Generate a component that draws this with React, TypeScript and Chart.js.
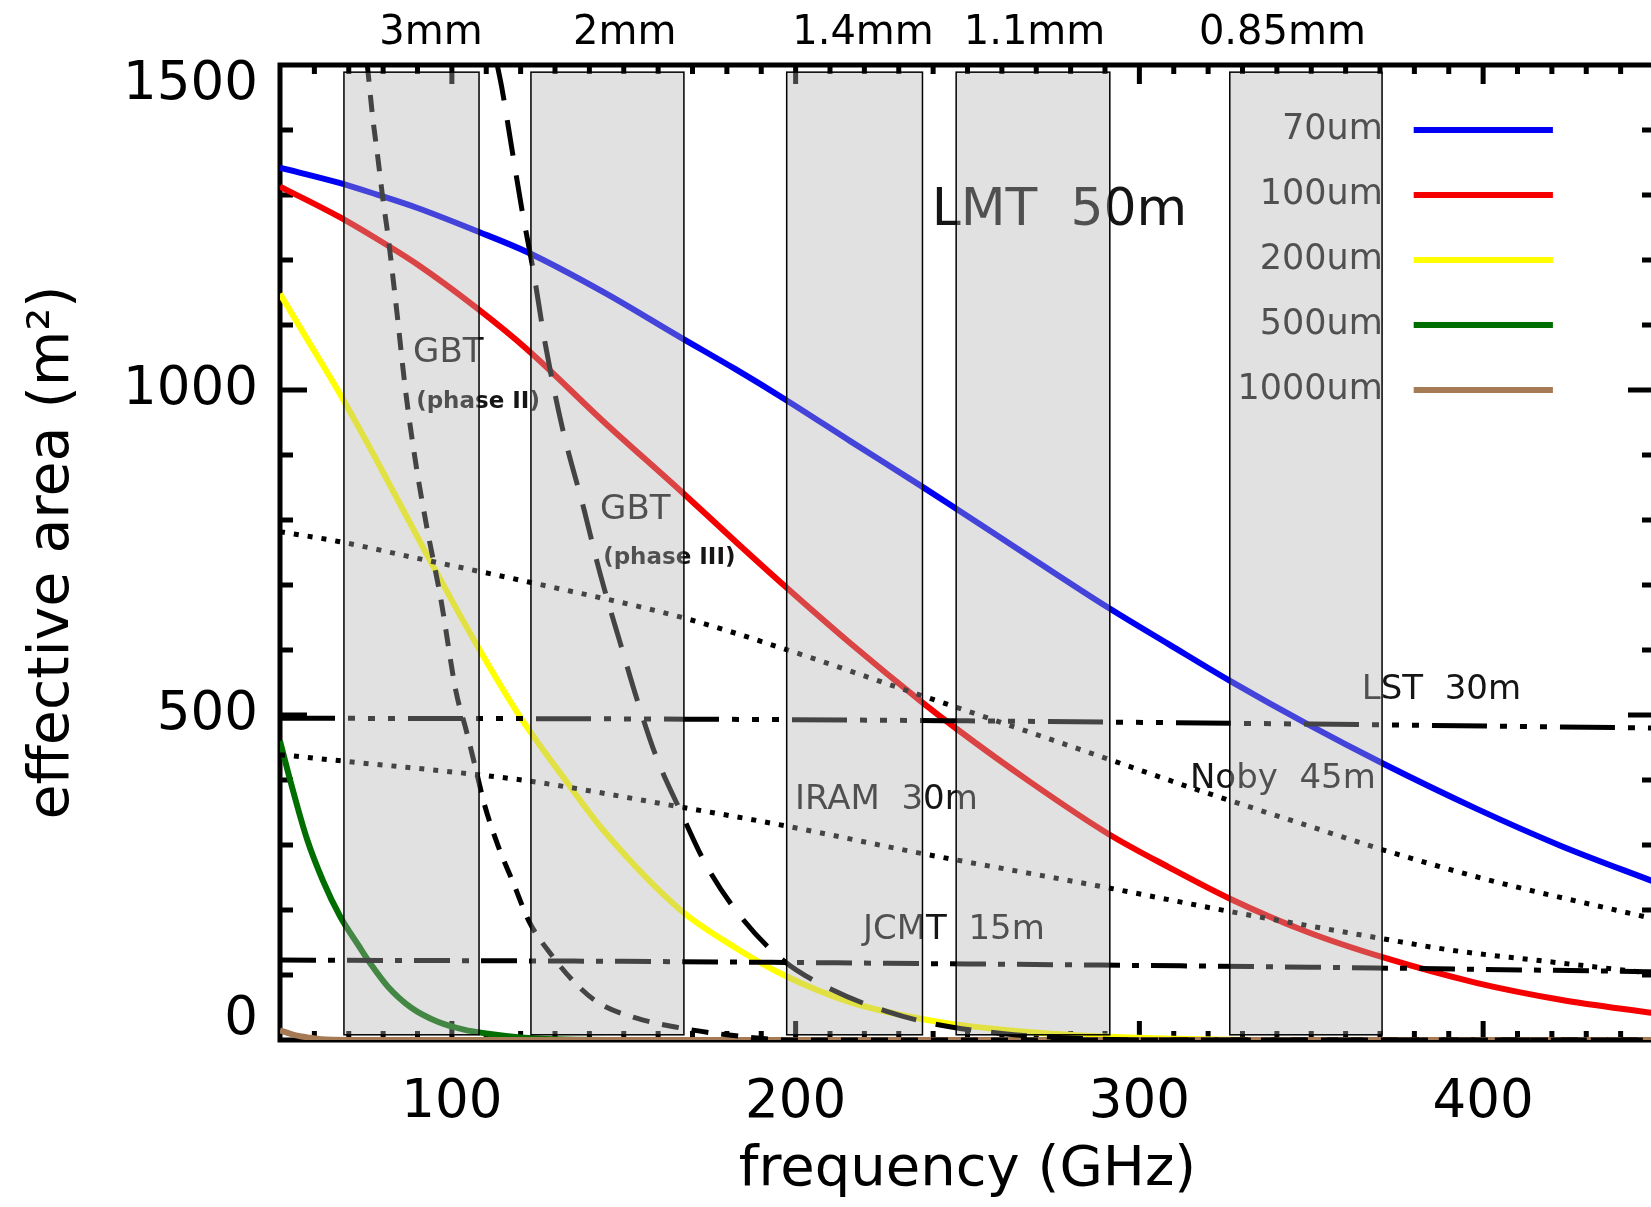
import React, { useEffect, useRef } from "react";
import { Chart, registerables } from "chart.js";

Chart.register(...registerables);

const FONT = "'DejaVu Sans', 'Liberation Sans', sans-serif";

// ---------- axes ----------
const X_MIN = 50;
const X_MAX = 450;
const Y_MIN = 0;
const Y_MAX = 1500;
const xTickValues = [100, 200, 300, 400];
const yTickValues = [0, 500, 1000, 1500];
const xMinorStep = 10;
const yMinorStep = 100;

// ---------- atmospheric windows ----------
const bandLabels = ["3mm", "2mm", "1.4mm", "1.1mm", "0.85mm"];
const bandLow = [68.6, 123.0, 197.4, 246.7, 326.3];
const bandHigh = [107.9, 167.5, 236.9, 291.4, 370.6];
const bandAreaLow = 8;
const bandAreaHigh = 1489;

// ---------- LMT 50m, surface accuracy series ----------
const legendLabels = ["70um", "100um", "200um", "500um", "1000um"];
const legendColors = ["#0000f5", "#f50000", "#ffff00", "#006e00", "#a57a55"];

const freq70 = [50, 67, 78, 90, 107, 122, 144, 166.5, 182.5, 196.5, 216, 236, 246.5, 268.5, 291, 308.5, 326.5, 348.5, 371, 398, 422.5, 450];
const area70 = [1342, 1319, 1301, 1280, 1245, 1212, 1151, 1081, 1032, 987, 921, 854, 818, 742, 665, 609, 552, 487, 425, 356, 299, 243];

const freq100 = [50, 67, 78, 90, 107, 122, 144, 166.5, 182.5, 196.5, 216, 236, 246.5, 268.5, 291, 308.5, 326.5, 348.5, 371, 398, 422.5, 450];
const area100 = [1313, 1267, 1233, 1193, 1127, 1062, 952, 845, 767, 700, 610, 523, 480, 396, 317, 266, 217, 167, 127, 88, 62, 41];

const freq200 = [50, 57.8, 67, 77.8, 92.6, 107, 120, 133, 144, 166.5, 182.5, 196.5, 216, 236, 246.5, 268.5, 291, 310, 340, 450];
const area200 = [1148, 1079, 998, 895, 748, 610, 496, 400, 323, 200, 142, 100, 58, 33, 24, 12, 5, 2, 0, 0];

const freq500 = [50, 53.2, 57.8, 62.5, 67.5, 72.9, 76.5, 81.4, 88.1, 95.9, 103.5, 110, 120, 130, 145, 450];
const area500 = [460, 395, 310, 245, 190, 145, 116, 82, 50, 28, 16, 10, 4, 1, 0, 0];

const freq1000 = [50, 54, 58, 62, 70, 450];
const area1000 = [15, 8, 4, 1, 0, 0];

// ---------- other telescopes ----------
const freqGbt2 = [75.4, 77.0, 78.5, 79.9, 81.4, 84.0, 86.5, 89.5, 92.5, 96.8, 101.2, 104.1, 106.9, 109.6, 113.5, 118.0, 122.4, 129.1, 135.8, 142.4, 153.5, 165, 180, 200, 450];
const areaGbt2 = [1500, 1418, 1356, 1295, 1238, 1120, 1000, 887, 795, 678, 536, 478, 418, 360, 298, 240, 183, 130, 88, 58, 34, 20, 8, 0, 0];

const freqGbt3 = [113.2, 114.5, 117.4, 120.3, 123.8, 127.2, 132, 138.5, 142.5, 145, 148.8, 153.8, 159.3, 166.6, 174.1, 184.3, 196.5, 210.8, 226.5, 240, 260, 280, 300, 450];
const areaGbt3 = [1500, 1466, 1373, 1280, 1180, 1070, 945, 815, 730, 682, 614, 525, 438, 351, 268, 188, 122, 77, 44, 25, 10, 3, 0, 0];

const freqNoby = [50, 67, 92.6, 107, 122, 167, 196.5, 236.6, 246.7, 291, 314, 326, 350, 370.6, 401, 450];
const areaNoby = [782, 767, 738, 722, 705, 650, 602, 530, 512, 432, 390, 369, 328, 293, 247, 186];

const freqIram = [50, 68.5, 107.8, 123, 167, 195.5, 236.6, 246.7, 291, 326, 370.6, 391, 420, 450];
const areaIram = [439, 429, 408, 398, 358, 331, 287, 277, 234, 198, 156, 138, 120, 102];

const freqLst = [50, 150, 250, 350, 450];
const areaLst = [495, 494, 491, 486, 480];

const freqJcmt = [50, 150, 250, 350, 450];
const areaJcmt = [123, 121, 117, 112, 105];

// ---------- text annotations ----------
const noteText = ["LMT  50m", "GBT", "(phase II)", "GBT", "(phase III)", "IRAM  30m", "JCMT  15m", "LST  30m", "Noby  45m"];
const noteFreq = [239.6, 88.7, 89.6, 143.1, 144.0, 199.8, 219.6, 364.7, 314.7];
const noteArea = [1275, 1057, 982, 815, 742, 369, 169, 538, 402];
const noteFont = [
  `52px ${FONT}`,
  `34px ${FONT}`,
  `bold 23px ${FONT}`,
  `34px ${FONT}`,
  `bold 23px ${FONT}`,
  `34px ${FONT}`,
  `34px ${FONT}`,
  `34px ${FONT}`,
  `34px ${FONT}`,
];

// layout anchors (data coordinates) for the legend and window labels
const bandLabelFreq = [93.9, 150.3, 219.6, 269.5, 341.6];
const legendArea = [1400, 1300, 1200, 1100, 1000];
const legendTextFreq = 370.8;
const legendLineFrom = 379.8;
const legendLineTo = 420.3;

const pts = (xs: number[], ys: number[]) => xs.map((x, i) => ({ x, y: ys[i] }));

const idlPlugin = {
  id: "idlFrame",
  beforeDatasetsDraw(chart: any) {
    const { ctx, chartArea: a, scales } = chart;
    const xs = scales.x;
    const ys = scales.y;
    ctx.save();
    ctx.strokeStyle = "#000";
    ctx.lineWidth = 5;
    ctx.lineCap = "butt";
    ctx.strokeRect(a.left, a.top, a.right - a.left, a.bottom - a.top);
    ctx.beginPath();
    for (let v = X_MIN + xMinorStep; v < X_MAX; v += xMinorStep) {
      const len = xTickValues.includes(v) ? 19 : 9;
      const px = xs.getPixelForValue(v);
      ctx.moveTo(px, a.bottom);
      ctx.lineTo(px, a.bottom - len);
      ctx.moveTo(px, a.top);
      ctx.lineTo(px, a.top + len);
    }
    for (let v = Y_MIN + yMinorStep; v < Y_MAX; v += yMinorStep) {
      const len = yTickValues.includes(v) ? 27 : 13;
      const py = ys.getPixelForValue(v);
      ctx.moveTo(a.left, py);
      ctx.lineTo(a.left + len, py);
      ctx.moveTo(a.right, py);
      ctx.lineTo(a.right - len, py);
    }
    ctx.stroke();
    ctx.restore();
  },
  afterDatasetsDraw(chart: any) {
    const { ctx, chartArea: a, scales } = chart;
    const xs = scales.x;
    const ys = scales.y;
    ctx.save();
    // annotations (beneath the window shading)
    ctx.fillStyle = "#151515";
    ctx.textAlign = "left";
    ctx.textBaseline = "middle";
    noteText.forEach((t, i) => {
      ctx.font = noteFont[i];
      ctx.fillText(t, xs.getPixelForValue(noteFreq[i]), ys.getPixelForValue(noteArea[i]));
    });
    // legend labels
    ctx.textAlign = "right";
    ctx.font = `35px ${FONT}`;
    legendLabels.forEach((t, i) => {
      ctx.fillText(t, xs.getPixelForValue(legendTextFreq), ys.getPixelForValue(legendArea[i]));
    });
    // windows
    bandLow.forEach((lo, i) => {
      const x0 = xs.getPixelForValue(lo);
      const x1 = xs.getPixelForValue(bandHigh[i]);
      const y0 = ys.getPixelForValue(bandAreaHigh);
      const y1 = ys.getPixelForValue(bandAreaLow);
      ctx.fillStyle = "rgba(177,177,177,0.384)";
      ctx.fillRect(x0, y0, x1 - x0, y1 - y0);
      ctx.strokeStyle = "#000";
      ctx.lineWidth = 1.5;
      ctx.strokeRect(x0, y0, x1 - x0, y1 - y0);
    });
    // legend lines
    ctx.lineWidth = 6;
    ctx.lineCap = "butt";
    legendColors.forEach((c, i) => {
      const py = ys.getPixelForValue(legendArea[i]);
      ctx.strokeStyle = c;
      ctx.beginPath();
      ctx.moveTo(xs.getPixelForValue(legendLineFrom), py);
      ctx.lineTo(xs.getPixelForValue(legendLineTo), py);
      ctx.stroke();
    });
    // window labels above the frame
    ctx.fillStyle = "#000";
    ctx.textAlign = "center";
    ctx.font = `40px ${FONT}`;
    bandLabels.forEach((t, i) => {
      ctx.fillText(t, xs.getPixelForValue(bandLabelFreq[i]), a.top - 31);
    });
    // y tick labels
    ctx.textAlign = "right";
    ctx.font = `53px ${FONT}`;
    yTickValues.forEach((v) => {
      let py = ys.getPixelForValue(v);
      if (v === Y_MAX) py += 20;
      if (v === Y_MIN) py -= 20;
      ctx.fillText(String(v), a.left - 22, py);
    });
    ctx.restore();
  },
};

export default function App() {
  const ref = useRef<HTMLCanvasElement | null>(null);

  useEffect(() => {
    if (!ref.current) return;
    Chart.defaults.font.family = FONT;
    const colored = [
      { label: legendLabels[0], data: pts(freq70, area70), color: legendColors[0], order: 5 },
      { label: legendLabels[1], data: pts(freq100, area100), color: legendColors[1], order: 4 },
      { label: legendLabels[2], data: pts(freq200, area200), color: legendColors[2], order: 3 },
      { label: legendLabels[3], data: pts(freq500, area500), color: legendColors[3], order: 2 },
      { label: legendLabels[4], data: pts(freq1000, area1000), color: legendColors[4], order: 1 },
    ].map((s) => ({
      label: s.label,
      data: s.data,
      borderColor: s.color,
      borderWidth: 6,
      order: s.order,
      pointRadius: 0,
      cubicInterpolationMode: "monotone" as const,
      fill: false,
    }));
    const black = [
      { label: "GBT (phase II)", data: pts(freqGbt2, areaGbt2), dash: [17, 13] },
      { label: "GBT (phase III)", data: pts(freqGbt3, areaGbt3), dash: [36, 20] },
      { label: "Noby 45m", data: pts(freqNoby, areaNoby), dash: [5, 9] },
      { label: "IRAM 30m", data: pts(freqIram, areaIram), dash: [5, 9] },
      { label: "LST 30m", data: pts(freqLst, areaLst), dash: [55, 13, 7, 13, 7, 13, 7, 13] },
      { label: "JCMT 15m", data: pts(freqJcmt, areaJcmt), dash: [36, 12, 7, 12] },
    ].map((s) => ({
      label: s.label,
      data: s.data,
      borderColor: "#000",
      borderWidth: 5,
      borderDash: s.dash,
      borderCapStyle: "butt" as const,
      order: 0,
      pointRadius: 0,
      cubicInterpolationMode: "monotone" as const,
      fill: false,
    }));

    const chart = new Chart(ref.current, {
      type: "line",
      data: { datasets: [...colored, ...black] as any },
      options: {
        animation: false,
        responsive: false,
        devicePixelRatio: 1,
        layout: { padding: { left: 0, right: 7, top: 65, bottom: 0 } },
        plugins: { legend: { display: false }, tooltip: { enabled: false } },
        elements: { point: { radius: 0 } },
        scales: {
          x: {
            type: "linear",
            min: X_MIN,
            max: X_MAX,
            afterBuildTicks: (s: any) => {
              s.ticks = xTickValues.map((v) => ({ value: v }));
            },
            afterFit: (s: any) => {
              s.height = 1207 - 1040;
            },
            grid: { display: false, drawTicks: false },
            border: { display: false },
            ticks: { font: { size: 53, family: FONT }, color: "#000", padding: 31, maxRotation: 0, autoSkip: false },
            title: {
              display: true,
              text: "frequency (GHz)",
              font: { size: 56, family: FONT },
              color: "#000",
              padding: { top: 0, bottom: 3 },
            },
          },
          y: {
            type: "linear",
            min: Y_MIN,
            max: Y_MAX,
            afterFit: (s: any) => {
              s.width = 280;
            },
            grid: { display: false, drawTicks: false },
            border: { display: false },
            ticks: { display: false },
            title: {
              display: true,
              text: "effective area (m²)",
              font: { size: 57, family: FONT },
              color: "#000",
              padding: { top: 19, bottom: 0 },
            },
          },
        },
      } as any,
      plugins: [idlPlugin],
    });
    return () => chart.destroy();
  }, []);

  return (
    <div
      style={{
        position: "absolute",
        left: 0,
        top: 0,
        width: 1651,
        height: 1207,
        overflow: "hidden",
        background: "#fff",
      }}
    >
      <canvas ref={ref} width={1662} height={1207} style={{ display: "block", width: 1662, height: 1207 }} />
    </div>
  );
}
